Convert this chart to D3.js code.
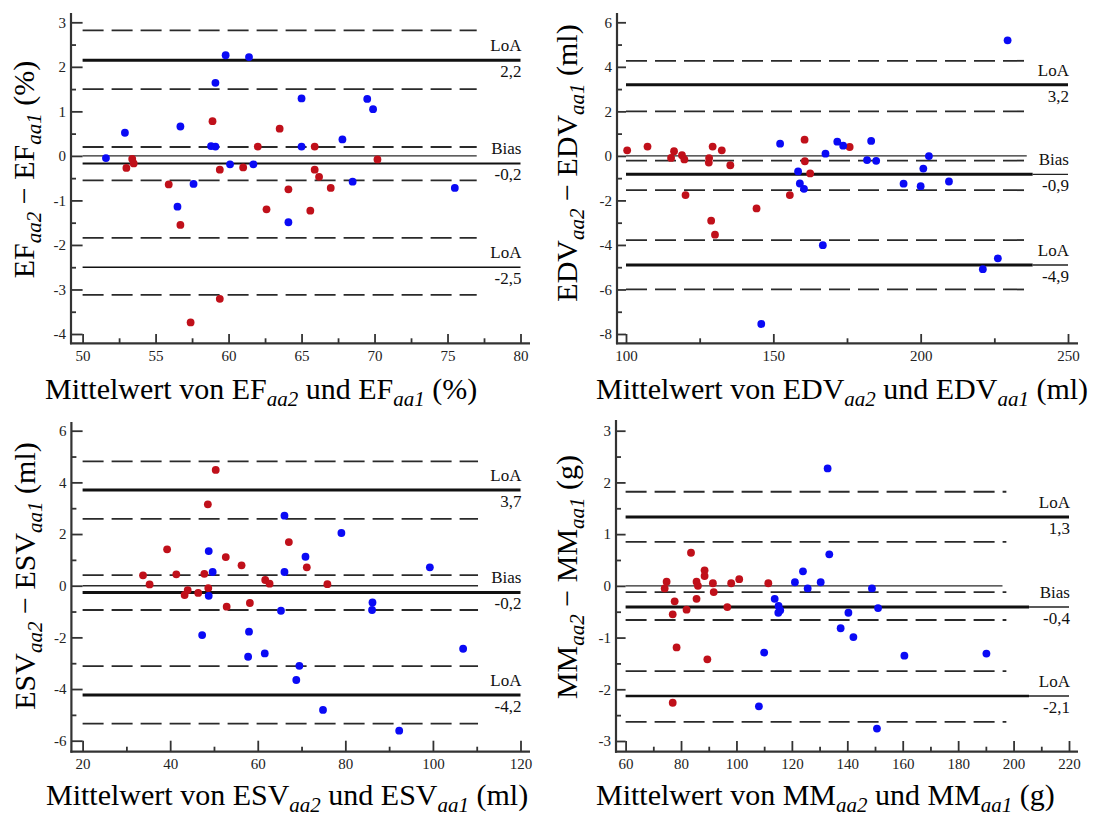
<!DOCTYPE html>
<html>
<head>
<meta charset="utf-8">
<script src="https://d3js.org/d3.v7.min.js"></script>
<style>
  body { margin: 0; background: #fff; }
  text { font-family: "Liberation Serif", "Times New Roman", "DejaVu Serif", serif; }
</style>
</head>
<body>
<svg id="chart" width="1094" height="816"></svg>
<script>
// ---- data ----
// EF panel
var efXTicks = [50, 55, 60, 65, 70, 75, 80];
var efYTicks = [-4, -3, -2, -1, 0, 1, 2, 3];
var efBlue = [[51.6,-0.05],[52.9,0.52],[56.7,0.66],[56.5,-1.14],[57.6,-0.63],[58.8,0.22],[59.1,0.21],
  [59.1,1.64],[59.8,2.26],[60.1,-0.19],[61.4,2.22],[61.7,-0.19],[64.1,-1.49],[65.0,1.29],[65.0,0.21],
  [67.8,0.37],[68.5,-0.58],[69.5,1.28],[69.9,1.05],[75.5,-0.72]];
var efRed = [[53.0,-0.27],[53.4,-0.07],[53.5,-0.17],[55.9,-0.64],[56.7,-1.55],[57.4,-3.74],[58.9,0.78],
  [59.4,-0.31],[59.4,-3.21],[61.0,-0.26],[62.0,0.21],[62.6,-1.20],[63.5,0.61],[64.1,-0.75],[65.6,-1.23],
  [65.9,0.21],[65.9,-0.31],[66.2,-0.47],[67.0,-0.72],[70.2,-0.08]];
var efBias = -0.17, efLoA = [2.15, -2.5];
var efCI = [2.82, 1.5, 0.2, -0.55, -1.84, -3.12];
var efLabels = ["2,2", "-0,2", "-2,5"];

// EDV panel
var edvXTicks = [100, 150, 200, 250];
var edvYTicks = [-8, -6, -4, -2, 0, 2, 4, 6];
var edvRed = [[100.4,0.25],[107.3,0.42],[115.3,-0.09],[116.3,0.21],[119.0,0.03],[119.8,-0.16],[120.2,-1.76],
  [128.1,-0.30],[128.2,-0.10],[128.9,-2.91],[129.4,0.42],[130.2,-3.54],[132.5,0.25],[135.4,-0.42],
  [144.3,-2.36],[155.6,-1.76],[160.6,0.73],[160.7,-0.24],[162.5,-0.79],[175.9,0.40]];
var edvBlue = [[152.3,0.55],[158.4,-0.70],[159.0,-1.24],[160.4,-1.48],[166.8,-4.01],[167.7,0.10],[145.9,-7.55],
  [171.7,0.64],[173.7,0.46],[181.8,-0.19],[183.2,0.67],[184.9,-0.22],[194.2,-1.25],[200.0,-1.36],
  [200.9,-0.57],[202.8,-0.01],[209.6,-1.15],[221.1,-5.09],[226.2,-4.60],[229.5,5.19]];
var edvBias = -0.83, edvLoA = [3.2, -4.9];
var edvCI = [4.27, 2.0, -0.21, -1.54, -3.78, -6.0];
var edvLabels = ["3,2", "-0,9", "-4,9"];

// ESV panel
var esvXTicks = [20, 40, 60, 80, 100, 120];
var esvYTicks = [-6, -4, -2, 0, 2, 4, 6];
var esvRed = [[33.8,0.40],[35.3,0.05],[39.3,1.41],[41.4,0.44],[43.3,-0.36],[44.0,-0.17],[46.4,-0.28],
  [47.8,0.46],[48.6,3.15],[48.7,-0.09],[50.4,4.48],[52.7,1.11],[52.9,-0.81],[56.3,0.79],[58.2,-0.67],
  [61.7,0.22],[62.7,0.08],[67.1,1.69],[71.2,0.71],[75.9,0.06]];
var esvBlue = [[47.3,-1.91],[48.8,1.34],[48.8,-0.39],[49.7,0.53],[58.0,-1.78],[57.8,-2.75],[61.6,-2.62],
  [65.3,-0.97],[66.1,2.71],[66.1,0.53],[68.8,-3.65],[69.5,-3.10],[70.9,1.12],[74.9,-4.81],[79.1,2.04],
  [86.2,-0.65],[86.1,-0.94],[92.3,-5.61],[99.3,0.71],[106.9,-2.44]];
var esvBias = -0.26, esvLoA = [3.7, -4.23];
var esvCI = [4.81, 2.59, 0.41, -0.94, -3.11, -5.34];
var esvLabels = ["3,7", "-0,2", "-4,2"];

// MM panel
var mmXTicks = [60, 80, 100, 120, 140, 160, 180, 200, 220];
var mmYTicks = [-3, -2, -1, 0, 1, 2, 3];
var mmRed = [[74.1,-0.05],[74.8,0.08],[77.0,-0.55],[77.0,-2.26],[77.7,-0.30],[78.4,-1.19],[82.0,-0.46],
  [83.6,0.64],[85.6,0.08],[85.6,-0.25],[86.1,0.0],[88.5,0.30],[88.5,0.19],[89.5,-1.42],[91.5,0.05],
  [91.8,-0.12],[96.7,-0.41],[98.1,0.05],[101.0,0.13],[111.5,0.05]];
var mmBlue = [[108.1,-2.33],[110.0,-1.29],[113.8,-0.25],[115.2,-0.39],[115.1,-0.52],[115.8,-0.47],[121.1,0.07],
  [124.0,0.28],[125.7,-0.05],[130.4,0.07],[132.9,2.27],[133.5,0.61],[137.6,-0.82],[140.4,-0.52],
  [142.2,-0.99],[148.9,-0.05],[150.7,-2.76],[151.1,-0.43],[160.6,-1.35],[190.2,-1.31]];
var mmBias = -0.41, mmLoA = [1.33, -2.13];
var mmCI = [1.82, 0.85, -0.12, -0.66, -1.65, -2.63];
var mmLabels = ["1,3", "-0,4", "-2,1"];

var blue = "#0a0af5", red = "#c0101a";

var svg = d3.select("#chart");

var panels = [
  { name: "EF", unit: "%", xTicks: efXTicks, yTicks: efYTicks, xMinor: 2.5, yMinor: 0.5,
    blue: efBlue, red: efRed, bias: efBias, loa: efLoA, ci: efCI, labels: efLabels, dashEnd: 77, zeroEnd: 77,
    spineX: 71, xr: [82.6, 520.5], yr: [334, 22.3], axisY: 343.3, top: 13, right: 530,
    lw: { up: 3, bias: 2, low: 1.4 }, thickEnd: {},
    ylab: [34, 169.5], xlab: [45, 399] },
  { name: "EDV", unit: "ml", xTicks: edvXTicks, yTicks: edvYTicks, xMinor: 25, yMinor: 1,
    blue: edvBlue, red: edvRed, bias: edvBias, loa: edvLoA, ci: edvCI, labels: edvLabels, dashEnd: 236, zeroEnd: 236,
    spineX: 617, xr: [626, 1068], yr: [334, 22.3], axisY: 343.3, top: 13, right: 1078,
    lw: { up: 3, bias: 3, low: 3 }, thickEnd: { bias: 238, low: 238 },
    ylab: [577, 163], xlab: [596, 399] },
  { name: "ESV", unit: "ml", xTicks: esvXTicks, yTicks: esvYTicks, xMinor: 10, yMinor: 1,
    blue: esvBlue, red: esvRed, bias: esvBias, loa: esvLoA, ci: esvCI, labels: esvLabels, dashEnd: 110.3, zeroEnd: 110.3,
    spineX: 71.4, xr: [82.6, 520.5], yr: [740.7, 430.7], axisY: 751.7, top: 422, right: 530,
    lw: { up: 3, bias: 3, low: 3 }, thickEnd: {},
    ylab: [35, 576], xlab: [46, 805] },
  { name: "MM", unit: "g", xTicks: mmXTicks, yTicks: mmYTicks, xMinor: 10, yMinor: 0.5,
    blue: mmBlue, red: mmRed, bias: mmBias, loa: mmLoA, ci: mmCI, labels: mmLabels, dashEnd: 197.4, zeroEnd: 196,
    spineX: 616, xr: [625.6, 1069], yr: [741, 430.7], axisY: 751.7, top: 420, right: 1078,
    lw: { up: 3, bias: 3, low: 2.6 }, thickEnd: { bias: 205.6, low: 205.6 },
    ylab: [577, 577], xlab: [596, 805] }
];

// text with italic subscripts: parts = [[text, isSub], ...]
function richText(t, parts, fs) {
  var down = false;
  parts.forEach(function(p) {
    var ts = t.append("tspan").text(p[0]);
    if (p[1] && !down) { ts.attr("dy", fs * 0.22).style("font-style", "italic").style("font-size", (fs * 0.7) + "px"); down = true; }
    else if (p[1]) { ts.style("font-style", "italic").style("font-size", (fs * 0.7) + "px"); }
    else if (down) { ts.attr("dy", -fs * 0.22); down = false; }
  });
}

panels.forEach(function(p) {
  var xd = [p.xTicks[0], p.xTicks[p.xTicks.length - 1]];
  var yd = [p.yTicks[0], p.yTicks[p.yTicks.length - 1]];
  var x = d3.scaleLinear().domain(xd).range(p.xr);
  var y = d3.scaleLinear().domain(yd).range(p.yr);
  var g = svg.append("g");

  // minor ticks
  var xMin = d3.range(xd[0] + p.xMinor, xd[1], p.xMinor * 2);
  var yMin = d3.range(yd[0] + p.yMinor, yd[1], p.yMinor * 2);
  g.append("g").attr("transform", "translate(0," + p.axisY + ")")
    .call(d3.axisBottom(x).tickValues(xMin).tickFormat("").tickSize(-5))
    .call(function(a) { a.select(".domain").remove(); });
  g.append("g").attr("transform", "translate(" + p.spineX + ",0)")
    .call(d3.axisLeft(y).tickValues(yMin).tickFormat("").tickSize(-5))
    .call(function(a) { a.select(".domain").remove(); });

  // major ticks
  var xa = g.append("g").attr("transform", "translate(0," + p.axisY + ")")
    .call(d3.axisBottom(x).tickValues(p.xTicks).tickFormat(function(d) { return String(d); })
      .tickSize(-(p.axisY - y(yd[0]))).tickPadding(7));
  var ya = g.append("g").attr("transform", "translate(" + p.spineX + ",0)")
    .call(d3.axisLeft(y).tickValues(p.yTicks).tickFormat(function(d) { return String(d); })
      .tickSize(-(p.xr[0] - p.spineX)).tickPadding(5));
  [xa, ya].forEach(function(a) {
    a.attr("font-family", null);
    a.select(".domain").remove();
    a.selectAll("text").style("font-size", "15px").attr("fill", "#222");
  });
  g.selectAll(".tick line").attr("stroke", "#333").attr("stroke-width", 1.8);

  // spines
  g.append("line").attr("x1", p.spineX).attr("x2", p.spineX).attr("y1", p.top).attr("y2", p.axisY + 1)
    .attr("stroke", "#333").attr("stroke-width", 2.2);
  g.append("line").attr("x1", p.spineX - 1).attr("x2", p.right).attr("y1", p.axisY).attr("y2", p.axisY)
    .attr("stroke", "#333").attr("stroke-width", 2.2);

  // reference lines
  var lines = g.append("g");
  p.ci.forEach(function(v) {
    lines.append("line").attr("x1", x(xd[0])).attr("x2", x(p.dashEnd)).attr("y1", y(v)).attr("y2", y(v))
      .attr("stroke", "#2a2a2a").attr("stroke-width", 1.8).attr("stroke-dasharray", "21,8");
  });
  lines.append("line").attr("x1", x(xd[0])).attr("x2", x(p.zeroEnd)).attr("y1", y(0)).attr("y2", y(0))
    .attr("stroke", "#2a2a2a").attr("stroke-width", 1.4);
  var solid = [["up", p.loa[0]], ["bias", p.bias], ["low", p.loa[1]]];
  solid.forEach(function(s) {
    var te = p.thickEnd[s[0]];
    if (te) {
      lines.append("line").attr("x1", x(te)).attr("x2", x(xd[1])).attr("y1", y(s[1])).attr("y2", y(s[1]))
        .attr("stroke", "#222").attr("stroke-width", 1.4);
    }
    lines.append("line").attr("x1", x(xd[0])).attr("x2", x(te || xd[1])).attr("y1", y(s[1])).attr("y2", y(s[1]))
      .attr("stroke", "#111").attr("stroke-width", p.lw[s[0]]);
  });

  // labels near lines
  var lx = x(xd[1]) + 1;
  var names = ["LoA", "Bias", "LoA"];
  solid.forEach(function(s, i) {
    g.append("text").attr("x", lx).attr("y", y(s[1]) - 9).attr("text-anchor", "end")
      .style("font-size", "17px").attr("fill", "#111").text(names[i]);
    g.append("text").attr("x", lx).attr("y", y(s[1]) + 17).attr("text-anchor", "end")
      .style("font-size", "17px").attr("fill", "#111").text(p.labels[i]);
  });

  // points
  [[p.red, red], [p.blue, blue]].forEach(function(set) {
    g.append("g").selectAll("circle").data(set[0]).enter().append("circle")
      .attr("cx", function(d) { return x(d[0]); })
      .attr("cy", function(d) { return y(d[1]); })
      .attr("r", 3.9)
      .attr("fill", set[1]);
  });

  // axis titles
  var fs = 30;
  var yt = g.append("text").attr("transform", "translate(" + p.ylab[0] + "," + p.ylab[1] + ") rotate(-90)")
    .attr("text-anchor", "middle").style("font-size", fs + "px").attr("fill", "#000");
  richText(yt, [[p.name, false], ["aa2", true], [" \u2212 " + p.name, false], ["aa1", true], [" (" + p.unit + ")", false]], fs);
  var xt = g.append("text").attr("x", p.xlab[0]).attr("y", p.xlab[1])
    .style("font-size", fs + "px").attr("fill", "#000");
  richText(xt, [["Mittelwert von " + p.name, false], ["aa2", true], [" und " + p.name, false], ["aa1", true], [" (" + p.unit + ")", false]], fs);
});
</script>
</body>
</html>
